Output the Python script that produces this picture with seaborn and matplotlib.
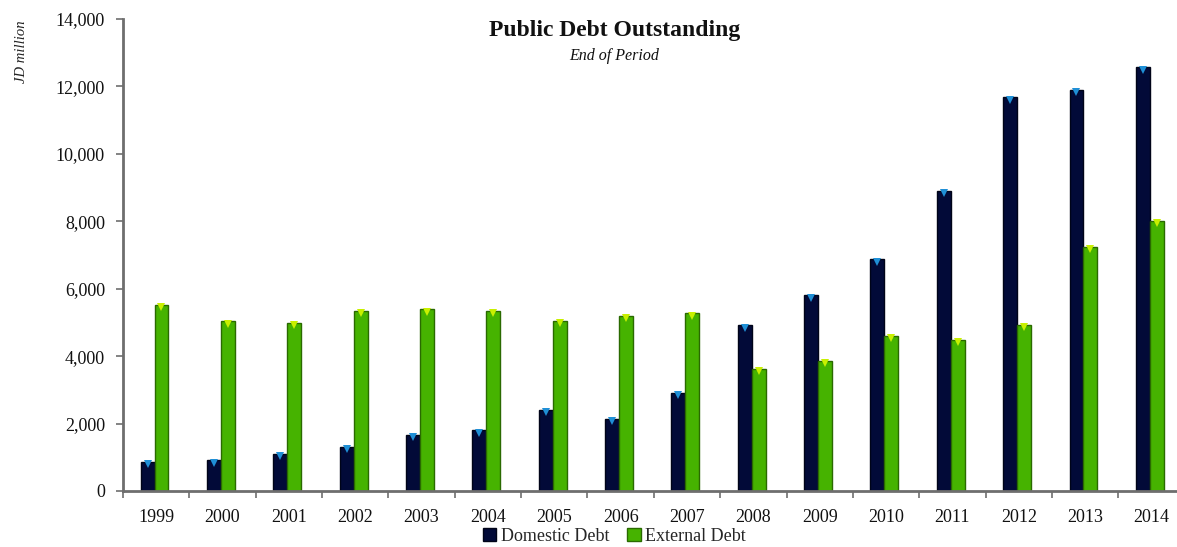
import matplotlib
matplotlib.use("Agg")
import matplotlib.pyplot as plt
import seaborn as sns
import pandas as pd
import numpy as np
from matplotlib.patches import Patch
from matplotlib.ticker import FuncFormatter, FixedLocator

years = ["1999", "2000", "2001", "2002", "2003", "2004", "2005", "2006",
         "2007", "2008", "2009", "2010", "2011", "2012", "2013", "2014"]
domestic = [870, 910, 1107, 1315, 1670, 1800, 2412, 2136,
            2917, 4916, 5806, 6874, 8910, 11670, 11898, 12560]
external = [5528, 5035, 4985, 5341, 5391, 5341, 5053, 5192,
            5272, 3620, 3857, 4608, 4480, 4934, 7248, 8011]
series = ["Domestic Debt", "External Debt"]

df = pd.DataFrame({
    "Year": years * 2,
    "Value": domestic + external,
    "Series": [series[0]] * len(years) + [series[1]] * len(years),
})

sns.set_style("white")
plt.rcParams["font.family"] = ["Liberation Serif", "DejaVu Serif"]

fig = plt.figure(figsize=(11.77, 5.47), dpi=100)
ax = fig.add_axes([0.1045, 0.1024, 0.902, 0.863])

colors = {series[0]: "#020a38", series[1]: "#46b300"}
edges = {series[0]: "#000418", series[1]: "#2a6a00"}
sns.barplot(data=df, x="Year", y="Value", hue="Series", order=years,
            hue_order=series, palette=colors, width=0.42, ax=ax,
            legend=False, saturation=1)

for cont, s in zip(ax.containers, series):
    for bar in cont:
        bar.set_x(bar.get_x() - 0.025)
        bar.set_edgecolor(edges[s])
        bar.set_linewidth(1.0)
        cx = bar.get_x() + bar.get_width() / 2
        top = bar.get_height()
        ax.plot(cx, top - 70, marker="v", markersize=6,
                color="#1f8fd6" if s == series[0] else "#c8f000",
                markeredgewidth=0, zorder=5)

ax.set_ylim(0, 14000)
ax.set_xlim(-0.5, len(years) - 0.5)
ax.yaxis.set_major_locator(FixedLocator(np.arange(0, 14001, 2000)))
ax.yaxis.set_major_formatter(FuncFormatter(lambda v, p: f"{int(v):,}"))

for sp in ["top", "right"]:
    ax.spines[sp].set_visible(False)
for sp in ["left", "bottom"]:
    ax.spines[sp].set_color("#6e6e6e")
    ax.spines[sp].set_linewidth(2)

ax.tick_params(axis="y", which="major", direction="out", length=5,
               width=1.2, color="#6e6e6e", labelsize=13, pad=8,
               left=True, labelcolor="#111111")
ax.set_xticks(range(len(years)))
ax.set_xticklabels(years)
ax.tick_params(axis="x", which="major", length=0, labelsize=13, pad=13,
               labelcolor="#111111")
ax.set_xticks(np.arange(-0.5, len(years), 1.0), minor=True)
ax.tick_params(axis="x", which="minor", direction="out", length=5,
               width=1.2, color="#6e6e6e", bottom=True)

ax.set_xlabel("")
ax.set_ylabel("")

fig.text(0.018, 0.905, "JD million", rotation=90, fontsize=10.5,
         style="italic", ha="center", va="center", color="#222222")
fig.text(0.522, 0.945, "Public Debt Outstanding", fontsize=17,
         fontweight="bold", ha="center", va="center", color="#111111")
fig.text(0.522, 0.898, "End of Period", fontsize=11.5,
         style="italic", ha="center", va="center", color="#111111")

handles = [Patch(facecolor=colors[s], edgecolor=edges[s]) for s in series]
fig.legend(handles, series, loc="center", bbox_to_anchor=(0.522, 0.02),
           ncol=2, frameon=False, fontsize=13, handlelength=0.75,
           handleheight=0.75, handletextpad=0.25, columnspacing=1.0,
           borderaxespad=0)

fig.savefig("out.png", dpi=100)
